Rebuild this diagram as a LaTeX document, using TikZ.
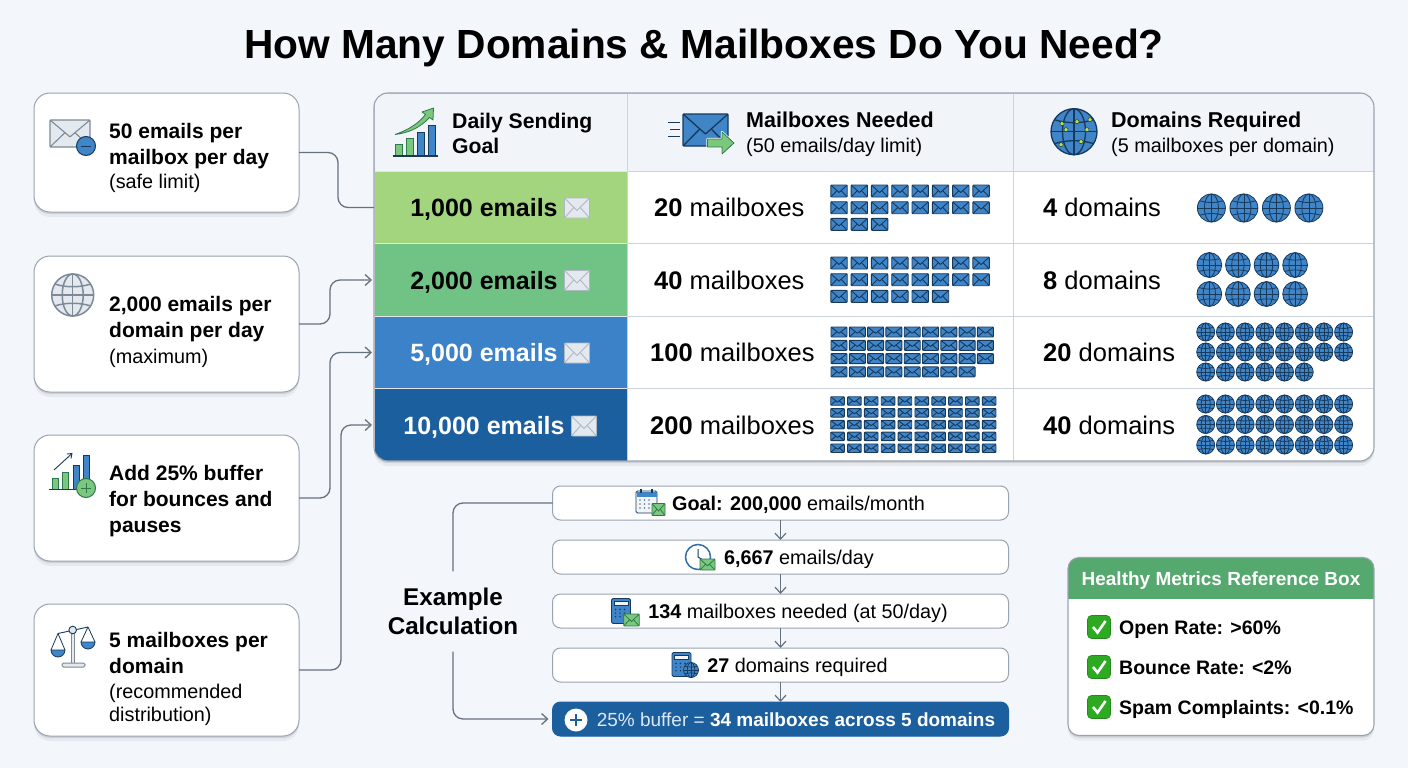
\documentclass[tikz,border=0pt]{standalone}
\usepackage{fontspec}
\setmainfont{Liberation Sans}
\usetikzlibrary{shapes.geometric, arrows.meta}
\usetikzlibrary{calc, shadows}
\definecolor{pagebg}{HTML}{F3F6FB}
\definecolor{linegray}{HTML}{67727F}
\definecolor{boxgray}{HTML}{9AA4AF}
\definecolor{cellgray}{HTML}{CDD3DA}
\definecolor{headbg}{HTML}{F1F5FA}
\definecolor{mailblue}{HTML}{3F85C8}
\definecolor{navy}{HTML}{17395C}
\definecolor{rowone}{HTML}{A3D57F}
\definecolor{rowtwo}{HTML}{70C285}
\definecolor{rowthree}{HTML}{3C82C8}
\definecolor{rowfour}{HTML}{1B5F9F}
\definecolor{leaf}{HTML}{7CC77E}
\definecolor{leafdark}{HTML}{2C7A4B}
\definecolor{palemail}{HTML}{E4E9EF}
\definecolor{palestroke}{HTML}{AEB8C2}
\definecolor{iconstroke}{HTML}{7D8996}
\definecolor{metricgreen}{HTML}{55A86E}
\definecolor{checkgreen}{HTML}{2DAA22}
\tikzstyle{softshadow} = [drop shadow={shadow xshift=0pt, shadow yshift=-2pt, opacity=.10, fill=black}, drop shadow={shadow xshift=0pt, shadow yshift=-5pt, opacity=.05, fill=black}]
\tikzstyle{card} = [rectangle, rounded corners=16pt, minimum width=265pt, draw=boxgray, line width=1pt, fill=white, inner sep=0pt, outer sep=0pt, softshadow]
\tikzstyle{cardtext} = [anchor=west, inner sep=0pt, align=left, font={\fontsize{21}{26}\selectfont\bfseries}]
\tikzstyle{link} = [line width=1.3pt, draw=linegray, rounded corners=10pt]
\tikzstyle{arrow} = [link, -{Straight Barb[length=6pt,width=11pt]}]
\tikzstyle{downarrow} = [line width=1.2pt, draw=linegray, -{Straight Barb[length=6pt,width=11pt]}]
\tikzstyle{headcell} = [rectangle, minimum height=78pt, draw=cellgray, line width=.8pt, fill=headbg, inner sep=0pt, outer sep=0pt]
\tikzstyle{goalcell} = [rectangle, minimum width=253pt, minimum height=72.5pt, draw=white!80!gray, line width=.8pt, inner sep=0pt, outer sep=0pt, text height=18pt, text depth=0pt, font={\fontsize{25}{30}\selectfont\bfseries}]
\tikzstyle{bodycell} = [rectangle, minimum height=72.5pt, draw=cellgray, line width=.8pt, fill=white, inner sep=0pt, outer sep=0pt]
\tikzstyle{celltext} = [anchor=west, inner sep=0pt, text height=18pt, text depth=0pt, font={\fontsize{25.5}{30}\selectfont}]
\tikzstyle{headtext} = [anchor=west, inner sep=0pt, align=left, font={\fontsize{21.5}{25.5}\selectfont\bfseries}]
\tikzstyle{stepbox} = [rectangle, rounded corners=8pt, minimum width=456pt, minimum height=34pt, draw=boxgray, line width=1pt, fill=white, inner sep=0pt, outer sep=0pt, text height=14pt, text depth=0pt, font={\fontsize{19.8}{24}\selectfont}]
\tikzstyle{stepdark} = [stepbox, draw=rowfour, fill=rowfour, text=white, font={\fontsize{19}{24}\selectfont}]
\tikzstyle{itemtext} = [anchor=west, inner sep=0pt, text height=14pt, text depth=0pt, font={\fontsize{19.5}{24}\selectfont\bfseries}]
% small icons
\newcommand{\envelope}[7]{%
	\begin{scope}[shift={({#1},{#2})}]
		\draw [draw=#6, fill=#5, line width=#7, rounded corners=1pt] (-#3/2,-#4/2) rectangle (#3/2,#4/2);
		\draw [draw=#6, line width=#7, line join=round] (-#3/2,-#4/2) -- (0,#4/8) -- (#3/2,-#4/2);
		\draw [draw=#6, line width=#7] (-#3/2,#4/2) -- (-#3/8,-#4/30) (#3/2,#4/2) -- (#3/8,-#4/30);
	\end{scope}}
\newcommand{\mailgrid}[7]{%
	\foreach \cnt [count=\ri from 0] in {#7}{%
		\foreach \ci in {1,...,\cnt}{%
			\envelope{#1+#3*(\ci-1)}{#2+#4*\ri}{#5}{#6}{mailblue}{navy}{.9pt}}}}
\newcommand{\globe}[6]{%
	\begin{scope}[shift={({#1},{#2})}]
		\draw [draw=#5, fill=#4, line width=#6] (0,0) circle [radius=#3];
		\draw [draw=#5, line width=#6] (0,-#3) -- (0,#3) (-#3,0) -- (#3,0);
		\draw [draw=#5, line width=#6] (0,0) ellipse [x radius=.5*#3, y radius=#3];
		\draw [draw=#5, line width=#6] (-.85*#3,-.52*#3) .. controls (-.3*#3,-.35*#3) and (.3*#3,-.35*#3) .. (.85*#3,-.52*#3);
		\draw [draw=#5, line width=#6] (-.85*#3,.52*#3) .. controls (-.3*#3,.35*#3) and (.3*#3,.35*#3) .. (.85*#3,.52*#3);
	\end{scope}}
\newcommand{\globegrid}[6]{%
	\foreach \cnt [count=\ri from 0] in {#6}{%
		\foreach \ci in {1,...,\cnt}{%
			\globe{#1+#3*(\ci-1)}{#2+#4*\ri}{#5}{mailblue}{navy}{.8pt}}}}
\newcommand{\calcicon}[4]{%
	\begin{scope}[shift={(#1,#2)}]
		\draw [draw=navy, fill=mailblue, line width=.9pt, rounded corners=1.5pt] (0,0) rectangle (#3,#4);
		\draw [draw=navy, fill=headbg, line width=.6pt] (2.5,2.5) rectangle (#3-2.5,7);
		\foreach \ci in {0,1,2}{\foreach \ri in {0,1,2}{%
			\fill [navy] ({4+\ci*4.5},{11+\ri*3.6}) circle [radius=.8];}}
	\end{scope}}
\newcommand{\checkicon}[2]{%
	\begin{scope}[shift={(#1,#2)}]
		\draw [draw=checkgreen!80!black, fill=checkgreen, line width=.6pt, rounded corners=4pt] (-11.5,-11.5) rectangle (11.5,11.5);
		\draw [white, line width=2.6pt] (-6,0) -- (-1.5,5.5) -- (6.5,-6);
	\end{scope}}
\begin{document}
\begin{tikzpicture}[x=1pt, y=-1pt]
	\useasboundingbox (0,0) rectangle (1408,768);
	\fill [pagebg] (0,0) rectangle (1408,768);
	\node (title) [inner sep=0pt, font={\fontsize{40.7}{48}\selectfont\bfseries}] at (704,48) {How Many Domains \& Mailboxes Do You Need?};

	% Rule cards
	\node (safe) [card, minimum height=119pt] at (166.5,152.5) {};
	\node (maxdom) [card, minimum height=136pt] at (166.5,324) {};
	\node (buffer) [card, minimum height=126pt] at (166.5,498) {};
	\node (dist) [card, minimum height=132pt] at (166.5,670) {};
	\node (safetxt) [cardtext] at (109,158) {50 emails per\\mailbox per day\\[-1.5pt]\mdseries\fontsize{19.8}{24}\selectfont (safe limit)};
	\node (maxdomtxt) [cardtext] at (109,331.5) {2,000 emails per\\domain per day\\\mdseries\fontsize{19.8}{24}\selectfont (maximum)};
	\node (buffertxt) [cardtext] at (109,501) {Add 25\% buffer\\for bounces and\\pauses};
	\node (disttxt) [cardtext] at (109,679) {5 mailboxes per\\domain\\[-1pt]\mdseries\fontsize{19.8}{22}\selectfont (recommended\\[-3pt]\mdseries\fontsize{19.8}{22}\selectfont distribution)};

	% Card icons
	\envelope{70}{133.5}{40}{27}{palemail}{iconstroke}{1.1pt}
	\draw [draw=navy, fill=mailblue, line width=1pt] (86,146) circle [radius=9.5];
	\draw [navy, line width=1pt] (81,146) -- (91,146);
	\globe{72.7}{295}{21}{palemail}{iconstroke}{1.5pt}
	\draw [draw=leafdark, fill=leaf, line width=.8pt] (52,478) rectangle (58,489);
	\draw [draw=leafdark, fill=leaf, line width=.8pt] (62,472) rectangle (68,489);
	\draw [draw=navy, fill=mailblue, line width=.8pt] (73,465) rectangle (79,489);
	\draw [draw=navy, fill=mailblue, line width=.8pt] (83,455) rectangle (89,489);
	\draw [navy, line width=1pt] (49,489) -- (92,489);
	\draw [navy, line width=.9pt, -{Straight Barb[length=4pt,width=6pt]}] (54,470) -- (72.5,453);
	\draw [draw=leafdark, fill=leaf, line width=1pt] (86,488) circle [radius=9.5];
	\draw [leafdark, line width=1pt] (81,488) -- (91,488) (86,483) -- (86,493);
	\draw [draw=iconstroke, fill=palemail, line width=1pt] (71.2,632) rectangle (74.2,663);
	\draw [draw=iconstroke, fill=palemail, line width=1pt, rounded corners=1.5pt] (62,663) rectangle (85,667);
	\draw [navy, line width=.9pt] (58,633.5) -- (88,627);
	\draw [draw=navy, fill=palemail, line width=.9pt] (72.7,630) circle [radius=3.8];
	\draw [navy, line width=.8pt, line join=round] (51,650) -- (58,633.5) -- (65,650);
	\draw [navy, line width=.8pt, line join=round] (81,642) -- (88,627) -- (95,642);
	\draw [draw=navy, fill=mailblue, line width=.8pt] (51,650) arc [start angle=180, end angle=360, x radius=7, y radius=-7] -- cycle;
	\draw [draw=navy, fill=mailblue, line width=.8pt] (81,642) arc [start angle=180, end angle=360, x radius=7, y radius=-7] -- cycle;

	% Table
	\node (tbl) [rectangle, rounded corners=14pt, minimum width=1000pt, minimum height=368pt, fill=white, inner sep=0pt, outer sep=0pt, softshadow] at (874,277) {};
	\begin{scope}
		\clip [rounded corners=14pt] (tbl.north west) rectangle (tbl.south east);
		\begin{scope}[node distance=72.5pt]
			\node (hgoal) [headcell, minimum width=253pt] at (500.5,132) {};
			\node (hmail) [headcell, minimum width=386pt] at (820,132) {};
			\node (hdom) [headcell, minimum width=361pt] at (1193.5,132) {};
			\node (row1) [goalcell, fill=rowone] at (500.5,207.5) {1,000 emails\hspace{33pt}\mbox{}};
			\node (row2) [goalcell, fill=rowtwo, below of=row1] {2,000 emails\hspace{33pt}\mbox{}};
			\node (row3) [goalcell, fill=rowthree, below of=row2, text=white] {5,000 emails\hspace{33pt}\mbox{}};
			\node (row4) [goalcell, fill=rowfour, below of=row3, text=white] {10,000 emails\hspace{33pt}\mbox{}};
			\node (mail1) [bodycell, minimum width=386pt] at (820,207.5) {};
			\node (mail2) [bodycell, minimum width=386pt, below of=mail1] {};
			\node (mail3) [bodycell, minimum width=386pt, below of=mail2] {};
			\node (mail4) [bodycell, minimum width=386pt, below of=mail3] {};
			\node (dom1) [bodycell, minimum width=361pt] at (1193.5,207.5) {};
			\node (dom2) [bodycell, minimum width=361pt, below of=dom1] {};
			\node (dom3) [bodycell, minimum width=361pt, below of=dom2] {};
			\node (dom4) [bodycell, minimum width=361pt, below of=dom3] {};
		\end{scope}
	\end{scope}
	\draw [draw=boxgray, line width=1.1pt, rounded corners=14pt] (tbl.north west) rectangle (tbl.south east);

	% Header cells
	\node (hgoaltxt) [headtext, font={\fontsize{21.2}{25}\selectfont\bfseries}] at (452,133) {Daily Sending\\Goal};
	\node (hmailtxt) [headtext] at (746,134.5) {Mailboxes Needed\\\mdseries\fontsize{19.8}{24}\selectfont (50 emails/day limit)};
	\node (hdomtxt) [headtext] at (1111,134.5) {Domains Required\\\mdseries\fontsize{19.8}{24}\selectfont (5 mailboxes per domain)};
	\draw [draw=leafdark, fill=leaf, line width=.8pt] (395,144) rectangle (402,156);
	\draw [draw=leafdark, fill=leaf, line width=.8pt] (406.5,138) rectangle (413,156);
	\draw [draw=navy, fill=mailblue, line width=.8pt] (417,132.5) rectangle (424,156);
	\draw [draw=navy, fill=mailblue, line width=.8pt] (428,125.5) rectangle (435,156);
	\draw [navy, line width=1.1pt] (392.5,156) -- (438,156);
	\draw [draw=leafdark, fill=leaf, line width=.8pt, line join=round] (395,134.5) .. controls (408,130) and (418,124) .. (425.5,114.5) -- (422,112) -- (433.5,108) -- (433,120) -- (429.5,117.5) .. controls (420,128) and (408,133) .. (395,134.5);
	\draw [navy, line width=1.1pt] (668,122.5) -- (680,122.5) (670,129.5) -- (680,129.5) (668,136.5) -- (680,136.5);
	\envelope{705.5}{130}{45}{32}{mailblue}{navy}{1.3pt}
	\draw [draw=white, fill=leaf, line width=2.2pt, line join=round] (707.5,139) -- (722,139) -- (722,132) -- (734,143) -- (722,154) -- (722,147) -- (707.5,147) -- cycle;
	\draw [draw=leafdark, fill=leaf, line width=.8pt, line join=round] (707.5,139) -- (722,139) -- (722,132) -- (734,143) -- (722,154) -- (722,147) -- (707.5,147) -- cycle;
	\globe{1074}{131.7}{23}{mailblue}{navy}{1.3pt}
	\foreach \dx/\dy in {16/-12, -13/13, -8/-2, 7/10, 13/-2, -12/-8, 3/-10}{
		\fill [leaf!50!yellow] (1074+\dx,131.7+\dy) circle [radius=2.1];
		\draw [navy, line width=.5pt] (1074+\dx,131.7+\dy) circle [radius=2.1];
	}

	% Goal column mail icons
	\envelope{577}{208}{25}{20}{palemail}{palestroke}{.9pt}
	\envelope{577}{280.5}{25}{20}{palemail}{palestroke}{.9pt}
	\envelope{577}{353}{25}{20}{palemail}{palestroke}{.9pt}
	\envelope{584}{426}{25}{20}{palemail}{palestroke}{.9pt}

	% Mailbox counts
	\node (need1) [celltext] at (654,207.5) {\textbf{20} mailboxes};
	\node (need2) [celltext] at (654,280) {\textbf{40} mailboxes};
	\node (need3) [celltext] at (650,352.5) {\textbf{100} mailboxes};
	\node (need4) [celltext] at (650,425) {\textbf{200} mailboxes};
	\mailgrid{839}{191}{20.3}{16.7}{16.4}{12}{8,8,3}
	\mailgrid{839}{263}{20.3}{16.7}{16.4}{12}{8,8,6}
	\mailgrid{839}{332}{18.3}{13.3}{16}{10}{9,9,9,8}
	\mailgrid{837.5}{401}{16.85}{11.8}{13.6}{8.5}{10,10,10,10,10}

	% Domain counts
	\node (req1) [celltext] at (1043,207.5) {\textbf{4} domains};
	\node (req2) [celltext] at (1043,280) {\textbf{8} domains};
	\node (req3) [celltext] at (1043,352.5) {\textbf{20} domains};
	\node (req4) [celltext] at (1043,425) {\textbf{40} domains};
	\globegrid{1211.4}{208}{32.5}{0}{14}{4}
	\globegrid{1209.3}{265}{28.6}{29}{12.4}{4,4}
	\globegrid{1205.7}{332}{19.7}{20}{9}{8,8,6}
	\globegrid{1205.7}{404}{19.7}{20.5}{9}{8,8,8}

	% Links to the table
	\draw [link] (safe.east) -- ++(39,0) |- (row1.west);
	\draw [arrow, shorten >=2pt] (maxdom.east) -- ++(31,0) |- (row2.west);
	\draw [arrow, shorten >=2pt] (buffer.east) -- ++(31,0) |- (row3.west);
	\draw [arrow, shorten >=2pt] (dist.east) -- ++(42,0) |- (row4.west);

	% Example steps
	\begin{scope}[node distance=54pt]
		\node (goal) [stepbox] at (780.5,503) {\hspace{36pt}\textbf{Goal: 200,000} emails/month};
		\node (daily) [stepbox, below of=goal] {\hspace{37pt}\textbf{6,667} emails/day};
		\node (need) [stepbox, below of=daily] {\hspace{35pt}\textbf{134} mailboxes needed (at 50/day)};
		\node (domains) [stepbox, below of=need] {\hspace{34pt}\textbf{27} domains required};
		\node (total) [stepdark, below of=domains] {\hspace{31pt}{\color{white!85!rowfour}25\% buffer =} \textbf{34 mailboxes across 5 domains}};
	\end{scope}
	\draw [downarrow] (goal) -- (daily);
	\draw [downarrow] (daily) -- (need);
	\draw [downarrow] (need) -- (domains);
	\draw [downarrow] (domains) -- (total);
	\node (example) [inner sep=0pt, minimum height=80pt, align=center, font={\fontsize{24.2}{29}\selectfont\bfseries}] at (453,611.5) {Example\\Calculation};
	\draw [link] (example.north) |- (goal.west);
	\draw [arrow, shorten >=4pt] (example.south) |- (total.west);

	% Step icons
	\draw [draw=navy, fill=headbg, line width=.9pt, rounded corners=1.5pt] (636,491) rectangle (657,513);
	\fill [mailblue] (636.5,491.5) rectangle (656.5,496.5);
	\draw [navy, line width=1.1pt] (641,488.5) -- (641,493) (652,488.5) -- (652,493);
	\foreach \ci in {0,1,2}{\foreach \ri in {0,1,2}{
		\fill [navy!70] ({640+\ci*4.5},{500+\ri*4}) circle [radius=.8];}}
	\envelope{658.5}{509.5}{13}{12}{leaf}{leafdark}{.8pt}
	\draw [draw=mailblue!70!navy, fill=white, line width=1.5pt] (698,557) circle [radius=12.5];
	\draw [navy, line width=1pt] (698,549) -- (698,557) -- (703,560);
	\envelope{707.5}{564.5}{15}{11}{leaf}{leafdark}{.8pt}
	\calcicon{611.5}{598.5}{19}{25}
	\envelope{631.5}{620}{15.5}{12}{leaf}{leafdark}{.8pt}
	\calcicon{672}{652.5}{19}{24}
	\globe{691}{670}{7.5}{mailblue}{navy}{.7pt}
	\fill [white] (576,720) circle [radius=11.5];
	\draw [rowfour, line width=2.2pt] (570,720) -- (582,720) (576,714) -- (576,726);

	% Metrics box
	\node (metrics) [rectangle, rounded corners=11pt, minimum width=306pt, minimum height=178pt, fill=white, inner sep=0pt, outer sep=0pt, softshadow] at (1221,646.5) {};
	\begin{scope}
		\clip [rounded corners=11pt] (metrics.north west) rectangle (metrics.south east);
		\node (mhead) [rectangle, minimum width=306pt, minimum height=41pt, fill=metricgreen, inner sep=0pt, outer sep=0pt, text=white, text height=14pt, text depth=0pt, font={\fontsize{19}{23}\selectfont\bfseries}] at (1221,578.5) {Healthy Metrics Reference Box};
	\end{scope}
	\draw [draw=boxgray, line width=1.1pt, rounded corners=11pt] (metrics.north west) rectangle (metrics.south east);
	\checkicon{1099}{627}
	\checkicon{1099}{667}
	\checkicon{1099}{707}
	\node (open) [itemtext] at (1119,627) {Open Rate: >60\%};
	\node (bounce) [itemtext] at (1119,667) {Bounce Rate: <2\%};
	\node (spam) [itemtext] at (1119,707) {Spam Complaints: <0.1\%};
\end{tikzpicture}
\end{document}
